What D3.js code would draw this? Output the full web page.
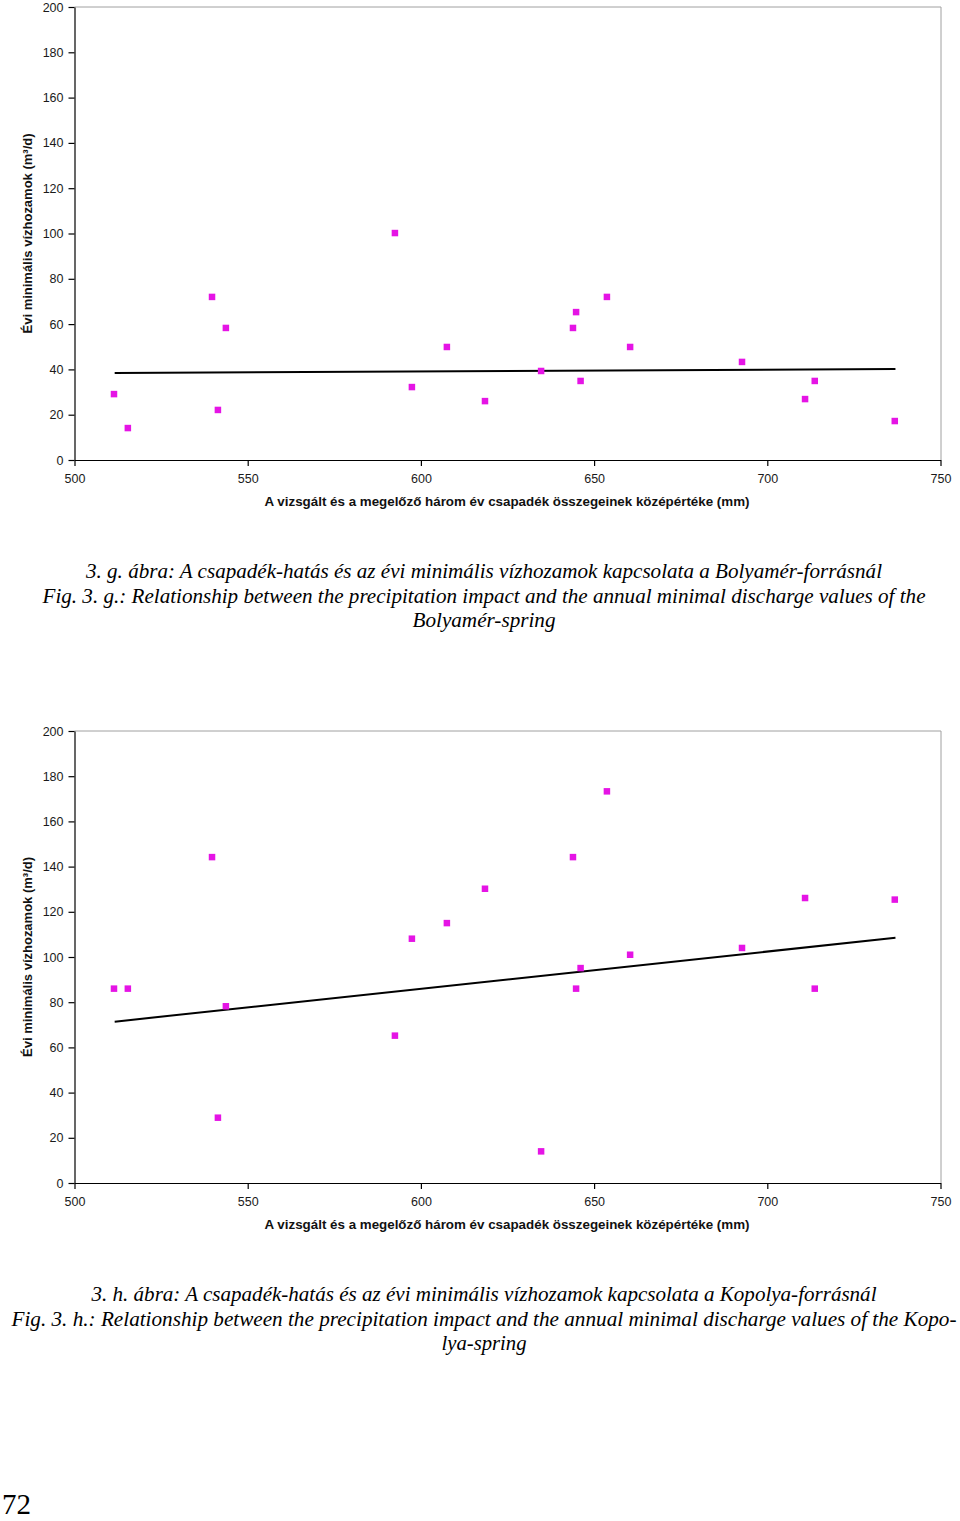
<!DOCTYPE html>
<html>
<head>
<meta charset="utf-8">
<script src="https://cdn.jsdelivr.net/npm/d3@7"></script>
<style>
  html, body { margin: 0; padding: 0; background: #fff; }
  svg { display: block; }
</style>
</head>
<body>
<svg id="page" width="960" height="1521"></svg>
<script>
// ---- data ----
const precipitation = [511.4, 515.4, 539.7, 543.7, 541.4, 592.5, 597.4, 607.5, 618.5, 634.7,
                       643.9, 644.8, 646.1, 653.7, 660.4, 692.7, 710.9, 713.7, 736.8];
const bolyamerDischarge = [29.1, 14.1, 72.0, 58.3, 22.1, 100.2, 32.2, 49.9, 26.0, 39.3,
                           58.3, 65.3, 34.9, 72.0, 49.9, 43.3, 26.9, 34.9, 17.2];
const kopolyaDischarge = [86.0, 86.0, 144.2, 78.2, 28.9, 65.2, 108.1, 115.0, 130.2, 14.0,
                          144.2, 86.0, 95.1, 173.3, 101.0, 104.0, 126.1, 86.0, 125.4];
const trendX = [511.6, 737.0];
const bolyamerTrendY = [38.4, 40.2];
const kopolyaTrendY = [71.4, 108.5];
const xTicks = [500, 550, 600, 650, 700, 750];
const yTicks = [0, 20, 40, 60, 80, 100, 120, 140, 160, 180, 200];
const xTitle = "A vizsgált és a megelőző három év csapadék összegeinek középértéke (mm)";
const yTitle = "Évi minimális vízhozamok (m³/d)";
const bolyamerCaption = [
  "3. g. ábra: A csapadék-hatás és az évi minimális vízhozamok kapcsolata a Bolyamér-forrásnál",
  "Fig. 3. g.: Relationship between the precipitation impact and the annual minimal discharge values of the",
  "Bolyamér-spring"
];
const kopolyaCaption = [
  "3. h. ábra: A csapadék-hatás és az évi minimális vízhozamok kapcsolata a Kopolya-forrásnál",
  "Fig. 3. h.: Relationship between the precipitation impact  and the annual minimal discharge values of the Kopo-",
  "lya-spring"
];
const pageNumber = "72";

// ---- drawing ----
const svg = d3.select("#page");
const left = 74.5, right = 940.5;
const x = d3.scaleLinear().domain([500, 750]).range([left, right]);

function drawChart(top, bottom, values, trendY, caption, capY, capWidths) {
  const y = d3.scaleLinear().domain([0, 200]).range([bottom, top]);
  const g = svg.append("g");

  // plot area border (gray top & right)
  g.append("path")
    .attr("d", `M${left},${top}H${right + 0.5}V${bottom}`)
    .attr("fill", "none").attr("stroke", "#a0a0a0").attr("stroke-width", 1);

  const yAxis = g.append("g").attr("transform", `translate(${left},0)`)
    .call(d3.axisLeft(y).tickValues(yTicks).tickSize(6).tickSizeOuter(0).tickPadding(5));
  const xAxis = g.append("g").attr("transform", `translate(0,${bottom})`)
    .call(d3.axisBottom(x).tickValues(xTicks).tickSize(6).tickSizeOuter(0).tickPadding(8));
  [yAxis, xAxis].forEach(a => {
    a.selectAll("path,line").attr("stroke", "#000").attr("stroke-width", 1.2);
    a.selectAll("text").attr("font-family", "'Liberation Sans', Arial, sans-serif")
      .attr("font-size", 12.5).attr("fill", "#1a1a1a");
  });

  // trend line
  g.append("path")
    .datum(trendX.map((v, i) => [v, trendY[i]]))
    .attr("d", d3.line().x(d => x(d[0])).y(d => y(d[1])))
    .attr("fill", "none").attr("stroke", "#000").attr("stroke-width", 2);

  // markers
  const s = 6.5;
  g.selectAll("rect.pt").data(precipitation.map((v, i) => [v, values[i]]))
    .join("rect").attr("class", "pt")
    .attr("x", d => x(d[0]) - s / 2).attr("y", d => y(d[1]) - s / 2)
    .attr("width", s).attr("height", s).attr("fill", "#e514e5");

  // axis titles
  g.append("text")
    .attr("x", 507).attr("y", bottom + 46)
    .attr("text-anchor", "middle")
    .attr("font-family", "'Liberation Sans', Arial, sans-serif")
    .attr("font-weight", "bold").attr("font-size", 12).attr("fill", "#111")
    .attr("textLength", 485).attr("lengthAdjust", "spacingAndGlyphs")
    .text(xTitle);
  const cy = (top + bottom) / 2;
  g.append("text")
    .attr("transform", `translate(32,${cy}) rotate(-90)`)
    .attr("text-anchor", "middle")
    .attr("font-family", "'Liberation Sans', Arial, sans-serif")
    .attr("font-weight", "bold").attr("font-size", 12).attr("fill", "#111")
    .attr("textLength", 200).attr("lengthAdjust", "spacingAndGlyphs")
    .text(yTitle);

  // caption
  caption.forEach((line, i) => {
    svg.append("text")
      .attr("x", 484).attr("y", capY + i * 24.5)
      .attr("text-anchor", "middle")
      .attr("font-family", "'Liberation Serif', 'Times New Roman', serif")
      .attr("font-style", "italic").attr("font-size", 20).attr("fill", "#000")
      .attr("textLength", capWidths[i]).attr("lengthAdjust", "spacingAndGlyphs")
      .text(line);
  });
}

drawChart(7, 460, bolyamerDischarge, bolyamerTrendY, bolyamerCaption, 578, [796, 883, 143]);
drawChart(731, 1183, kopolyaDischarge, kopolyaTrendY, kopolyaCaption, 1301, [785, 945, 85]);

svg.append("text").attr("x", 2).attr("y", 1514)
  .attr("font-family", "'Liberation Serif', 'Times New Roman', serif")
  .attr("font-size", 29).attr("fill", "#000")
  .text(pageNumber);
</script>
</body>
</html>
